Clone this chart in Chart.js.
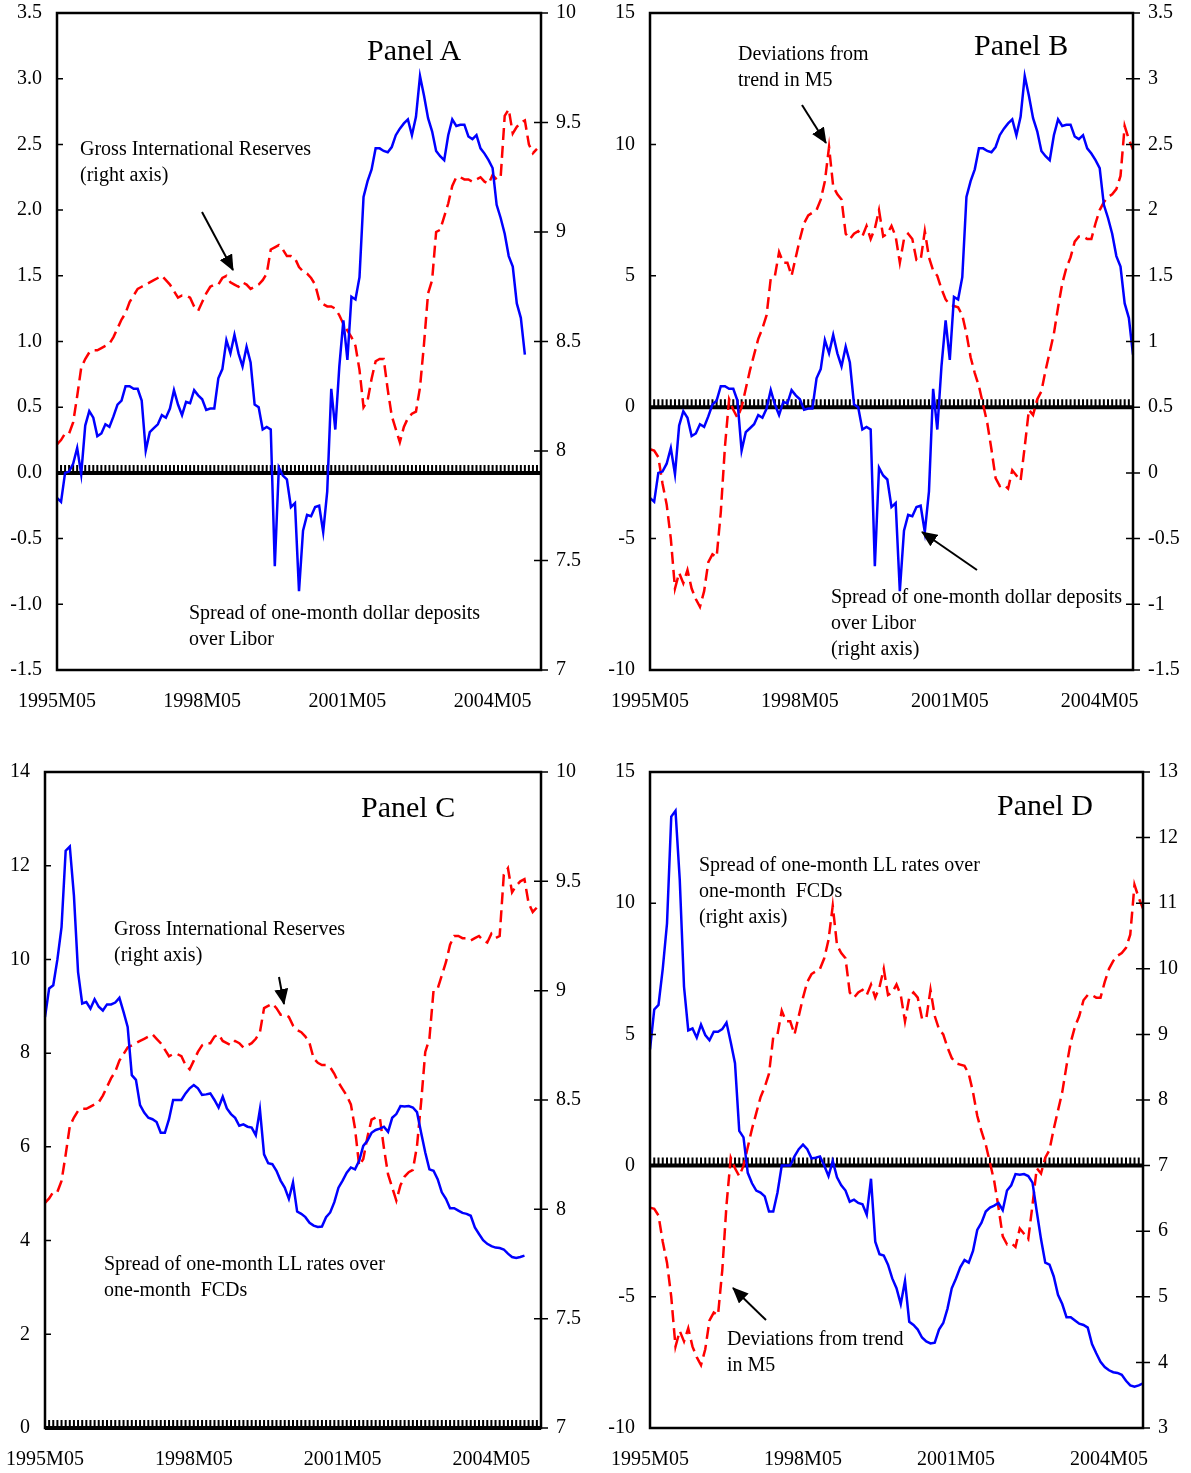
<!DOCTYPE html>
<html>
<head>
<meta charset="utf-8">
<script src="https://cdn.jsdelivr.net/npm/chart.js"></script>
<style>
body { margin: 0; background: #fff; }
#page { position: relative; width: 1191px; height: 1473px; overflow: hidden; font-family: 'Liberation Serif', 'Times New Roman', serif; color: #000; }
canvas { position: absolute; }
.note { position: absolute; font-size: 20px; line-height: 26px; white-space: pre; }
.title { position: absolute; font-size: 30px; line-height: 34px; white-space: nowrap; }
svg { position: absolute; left: 0; top: 0; }
</style>
</head>
<body>
<div id="page">
<canvas id="chartA" width="598" height="739" style="left:-3px;top:-19px"></canvas>
<canvas id="chartB" width="600" height="739" style="left:590px;top:-19px"></canvas>
<canvas id="chartC" width="610" height="733" style="left:-15px;top:740px"></canvas>
<canvas id="chartD" width="601" height="733" style="left:590px;top:740px"></canvas>

<div class="title" style="left:367px;top:33px">Panel A</div>
<div class="note" style="left:80px;top:135px">Gross International Reserves
(right axis)</div>
<div class="note" style="left:189px;top:599px">Spread of one-month dollar deposits
over Libor</div>

<div class="title" style="left:974px;top:28px">Panel B</div>
<div class="note" style="left:738px;top:40px">Deviations from
trend in M5</div>
<div class="note" style="left:831px;top:583px">Spread of one-month dollar deposits
over Libor
(right axis)</div>

<div class="title" style="left:361px;top:790px">Panel C</div>
<div class="note" style="left:114px;top:915px">Gross International Reserves
(right axis)</div>
<div class="note" style="left:104px;top:1250px">Spread of one-month LL rates over
one-month  FCDs</div>

<div class="title" style="left:997px;top:788px">Panel D</div>
<div class="note" style="left:699px;top:851px">Spread of one-month LL rates over
one-month  FCDs
(right axis)</div>
<div class="note" style="left:727px;top:1325px">Deviations from trend
in M5</div>

<svg width="1191" height="1473">
  <defs>
    <marker id="ah" viewBox="0 0 16 14" refX="15" refY="7" markerWidth="16" markerHeight="14" orient="auto" markerUnits="userSpaceOnUse">
      <path d="M0,0 L16,7 L0,14 z" fill="#000"/>
    </marker>
  </defs>
  <g stroke="#000" stroke-width="2" fill="none">
    <line x1="202" y1="212" x2="233" y2="270" marker-end="url(#ah)"/>
    <line x1="802" y1="105" x2="826" y2="143" marker-end="url(#ah)"/>
    <line x1="977" y1="570" x2="922" y2="532" marker-end="url(#ah)"/>
    <line x1="279" y1="977" x2="284" y2="1004" marker-end="url(#ah)"/>
    <line x1="766" y1="1320" x2="733" y2="1288" marker-end="url(#ah)"/>
  </g>
</svg>
</div>

<script>
// monthly series, starting 1995M05
var tickLabels = ['1995M05', '1998M05', '2001M05', '2004M05'];

// spread of one-month dollar deposits over Libor
var spreadUSD = [-0.19, -0.22, 0.00, 0.01, 0.07, 0.19, -0.01, 0.36, 0.47, 0.42,
    0.28, 0.30, 0.37, 0.35, 0.43, 0.52, 0.55, 0.66, 0.66, 0.64,
    0.64, 0.55, 0.17, 0.31, 0.34, 0.37, 0.44, 0.42, 0.49, 0.63,
    0.52, 0.44, 0.54, 0.53, 0.63, 0.59, 0.56, 0.48, 0.49, 0.49,
    0.72, 0.79, 1.01, 0.91, 1.05, 0.91, 0.81, 0.96, 0.84, 0.52,
    0.50, 0.33, 0.35, 0.33, -0.71, 0.04, -0.02, -0.05, -0.26, -0.23,
    -0.90, -0.44, -0.32, -0.33, -0.26, -0.25, -0.45, -0.14, 0.64, 0.33,
    0.81, 1.16, 0.86, 1.34, 1.32, 1.49, 2.10, 2.22, 2.31, 2.47,
    2.47, 2.45, 2.44, 2.48, 2.57, 2.62, 2.66, 2.69, 2.57, 2.71,
    3.02, 2.87, 2.70, 2.60, 2.45, 2.41, 2.38, 2.57, 2.69, 2.64,
    2.65, 2.65, 2.56, 2.54, 2.57, 2.47, 2.43, 2.38, 2.32, 2.04,
    1.94, 1.82, 1.65, 1.57, 1.29, 1.18, 0.90];

// gross international reserves (log)
var reserves = [8.03, 8.05, 8.08, 8.08, 8.13, 8.25, 8.38, 8.42, 8.45, 8.46,
    8.46, 8.47, 8.48, 8.49, 8.52, 8.56, 8.60, 8.63, 8.68, 8.71,
    8.74, 8.75, 8.76, 8.77, 8.78, 8.79, 8.80, 8.78, 8.76, 8.73,
    8.70, 8.71, 8.71, 8.70, 8.66, 8.64, 8.68, 8.72, 8.75, 8.76,
    8.76, 8.79, 8.80, 8.77, 8.76, 8.75, 8.77, 8.76, 8.74, 8.75,
    8.76, 8.78, 8.81, 8.92, 8.93, 8.94, 8.92, 8.89, 8.89, 8.88,
    8.84, 8.82, 8.81, 8.79, 8.76, 8.69, 8.67, 8.66, 8.66, 8.65,
    8.62, 8.58, 8.55, 8.52, 8.48, 8.37, 8.20, 8.23, 8.33, 8.41,
    8.42, 8.42, 8.28, 8.16, 8.10, 8.04, 8.11, 8.15, 8.17, 8.18,
    8.29, 8.49, 8.72, 8.78, 9.00, 9.01, 9.07, 9.13, 9.21, 9.25,
    9.25, 9.24, 9.24, 9.23, 9.24, 9.25, 9.23, 9.22, 9.26, 9.24,
    9.25, 9.53, 9.56, 9.45, 9.48, 9.50, 9.51, 9.40, 9.36, 9.38];

// deviations from trend in M5
var m5Dev = [-1.6, -1.65, -1.9, -2.9, -3.7, -5.0, -6.9, -6.3, -6.7, -6.2,
    -6.9, -7.3, -7.6, -7.0, -5.9, -5.6, -5.7, -4.0, -1.5, 0.3,
    -0.1, -0.4, 0.0, 0.7, 1.4, 2.0, 2.6, 3.0, 3.5, 4.9,
    5.0, 5.9, 5.5, 5.5, 5.0, 5.7, 6.4, 7.0, 7.3, 7.4,
    7.5, 7.9, 8.6, 9.9, 8.4, 8.1, 7.9, 6.6, 6.4, 6.6,
    6.7, 6.5, 6.9, 6.4, 6.8, 7.5, 6.5, 6.6, 6.9, 6.5,
    5.5, 6.4, 6.6, 6.4, 5.6, 5.6, 6.7, 5.7, 5.2, 5.0,
    4.5, 4.1, 3.9, 3.85, 3.8, 3.5, 2.8, 1.9, 1.3, 0.8,
    0.1, -0.6, -1.6, -2.7, -3.0, -2.95, -3.1, -2.4, -2.6, -2.8,
    -1.5, -0.1, -0.3, 0.3, 0.6, 1.4, 2.1, 2.8, 3.8, 4.7,
    5.3, 5.7, 6.3, 6.5, 6.5, 6.4, 6.4, 7.0, 7.5, 7.8,
    8.0, 8.1, 8.3, 8.8, 10.7, 10.2, 9.8];

// spread of one-month LL rates over one-month FCDs
var spreadLL = [8.77, 9.38, 9.45, 10.0, 10.69, 12.32, 12.41, 11.36, 9.73, 9.06,
    9.09, 8.95, 9.15, 8.99, 8.91, 9.04, 9.04, 9.08, 9.18, 8.88,
    8.56, 7.53, 7.43, 6.89, 6.73, 6.62, 6.59, 6.53, 6.30, 6.30,
    6.59, 7.0, 7.0, 7.0, 7.14, 7.25, 7.32, 7.25, 7.11, 7.12,
    7.14, 7.0, 6.84, 7.07, 6.82, 6.70, 6.62, 6.45, 6.48, 6.43,
    6.41, 6.25, 6.80, 5.84, 5.65, 5.63, 5.49, 5.28, 5.13, 4.89,
    5.24, 4.62, 4.57, 4.50, 4.38, 4.32, 4.29, 4.30, 4.50, 4.60,
    4.82, 5.13, 5.28, 5.45, 5.56, 5.52, 5.70, 6.02, 6.13, 6.30,
    6.36, 6.39, 6.43, 6.32, 6.62, 6.70, 6.87, 6.86, 6.87, 6.84,
    6.74, 6.30, 5.88, 5.52, 5.49, 5.31, 5.03, 4.89, 4.69, 4.69,
    4.64, 4.59, 4.57, 4.53, 4.28, 4.14, 4.01, 3.93, 3.88, 3.85,
    3.84, 3.81, 3.72, 3.65, 3.63, 3.65, 3.68];

var months = [];
for (var k = 0; k < 121; k++) {
    var mm = 4 + k;
    var yr = 1995 + Math.floor(mm / 12);
    var mo = (mm % 12) + 1;
    months.push(yr + 'M' + (mo < 10 ? '0' + mo : mo));
}

Chart.defaults.font.family = "'Liberation Serif', 'Times New Roman', serif";
Chart.defaults.font.size = 20;
Chart.defaults.color = '#000';

// frame, axis ticks and the hatched zero line
var panelDecor = {
    id: 'panelDecor',
    beforeDatasetsDraw: function (chart) {
        var ctx = chart.ctx, a = chart.chartArea, xs = chart.scales.x;
        var y0 = chart.scales.y.getPixelForValue(0);
        ctx.save();
        ctx.strokeStyle = '#000';
        ctx.lineWidth = 2;
        ctx.beginPath();
        for (var i = 0; i < xs.getLabels().length; i++) {
            var px = xs.getPixelForValue(i);
            ctx.moveTo(px, y0);
            ctx.lineTo(px, y0 - 8);
        }
        ctx.stroke();
        ctx.lineWidth = 4;
        ctx.beginPath();
        ctx.moveTo(a.left, y0);
        ctx.lineTo(a.right, y0);
        ctx.stroke();
        ctx.restore();
    },
    afterDraw: function (chart) {
        var ctx = chart.ctx, a = chart.chartArea;
        ctx.save();
        ctx.strokeStyle = '#000';
        ctx.lineWidth = 1.5;
        ctx.beginPath();
        chart.scales.y.ticks.forEach(function (t) {
            var py = chart.scales.y.getPixelForValue(t.value);
            ctx.moveTo(a.left, py);
            ctx.lineTo(a.left + 6, py);
        });
        chart.scales.y1.ticks.forEach(function (t) {
            var py = chart.scales.y1.getPixelForValue(t.value);
            ctx.moveTo(a.right - 7, py);
            ctx.lineTo(a.right + 7, py);
        });
        ctx.stroke();
        ctx.lineWidth = 2.5;
        ctx.strokeRect(a.left, a.top, a.right - a.left, a.bottom - a.top);
        ctx.restore();
    }
};

function axisY(pos, min, max, step, fmt, width) {
    return {
        position: pos, min: min, max: max,
        grid: { display: false, drawTicks: false },
        border: { display: false },
        ticks: { stepSize: step, padding: 15, callback: fmt },
        afterFit: function (s) { s.width = width; }
    };
}

function plain(v) { return String(v); }
function oneDec(v) { return v.toFixed(1); }

function makePanel(canvasId, p) {
    var labels = months.slice(0, p.count);
    new Chart(document.getElementById(canvasId), {
        type: 'line',
        data: {
            labels: labels,
            datasets: [{
                data: p.blue, yAxisID: p.blueAxis,
                borderColor: '#0000ff', borderWidth: 2.5,
                pointRadius: 0, tension: 0, fill: false
            }, {
                data: p.red, yAxisID: p.redAxis,
                borderColor: '#ff0000', borderWidth: 2.5, borderDash: [12, 6],
                pointRadius: 0, tension: 0, fill: false
            }]
        },
        options: {
            responsive: false,
            animation: false,
            events: [],
            layout: { padding: { top: p.top, left: 0, right: 0, bottom: 0 } },
            plugins: { legend: { display: false }, tooltip: { enabled: false } },
            scales: {
                x: {
                    type: 'category',
                    grid: { display: false, drawTicks: false },
                    border: { display: false },
                    ticks: {
                        autoSkip: false, maxRotation: 0, minRotation: 0, padding: 20,
                        callback: function (v, i) {
                            return tickLabels.indexOf(labels[i]) >= 0 ? labels[i] : '';
                        }
                    },
                    afterFit: function (s) { s.height = p.bottom; }
                },
                y: p.left,
                y1: p.right
            }
        },
        plugins: [panelDecor]
    });
}

makePanel('chartA', {
    count: 121, top: 32, bottom: 50,
    blue: spreadUSD, blueAxis: 'y', red: reserves, redAxis: 'y1',
    left: axisY('left', -1.5, 3.5, 0.5, oneDec, 60),
    right: axisY('right', 7, 10, 0.5, plain, 54)
});

makePanel('chartB', {
    count: 117, top: 32, bottom: 50,
    blue: spreadUSD, blueAxis: 'y1', red: m5Dev, redAxis: 'y',
    left: axisY('left', -10, 15, 5, plain, 60),
    right: axisY('right', -1.5, 3.5, 0.5, plain, 57)
});

makePanel('chartC', {
    count: 121, top: 32, bottom: 45,
    blue: spreadLL, blueAxis: 'y', red: reserves, redAxis: 'y1',
    left: axisY('left', 0, 14, 2, plain, 60),
    right: axisY('right', 7, 10, 0.5, plain, 54)
});

makePanel('chartD', {
    count: 117, top: 32, bottom: 45,
    blue: spreadLL, blueAxis: 'y1', red: m5Dev, redAxis: 'y',
    left: axisY('left', -10, 15, 5, plain, 60),
    right: axisY('right', 3, 13, 1, plain, 48)
});
</script>
</body>
</html>
